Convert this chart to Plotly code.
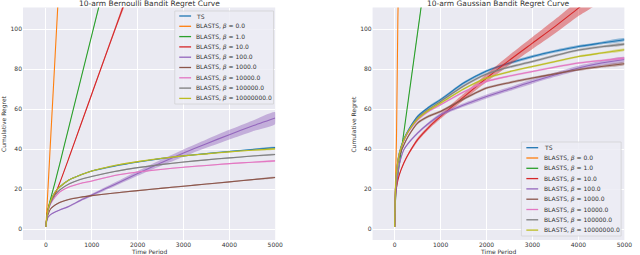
import plotly.graph_objects as go

# ---------------- data ----------------
T = [0, 10, 25, 50, 100, 200, 300, 500, 750, 1000, 1500, 2000, 2500, 3000, 3500, 4000, 4500, 5000]

SERIES = ["TS", "BLASTS, <i>β</i> = 0.0", "BLASTS, <i>β</i> = 1.0", "BLASTS, <i>β</i> = 10.0",
          "BLASTS, <i>β</i> = 100.0", "BLASTS, <i>β</i> = 1000.0", "BLASTS, <i>β</i> = 10000.0",
          "BLASTS, <i>β</i> = 100000.0", "BLASTS, <i>β</i> = 10000000.0"]
COLORS = ["#1f77b4", "#ff7f0e", "#2ca02c", "#d62728", "#9467bd", "#8c564b", "#e377c2", "#7f7f7f", "#bcbd22"]

# Bernoulli bandit (left)
bern_ts = [1, 4, 7, 10, 14, 18.5, 21, 24.5, 27, 29, 31.5, 33.5, 35.2, 36.6, 37.7, 38.8, 39.8, 40.7]
bern_b0_t = [0, 10, 25, 50, 100, 200, 300]
bern_b0 = [1, 5.5, 12, 22.5, 44, 86.5, 129]
bern_b1_t = [0, 25, 50, 100, 200, 300, 500, 750, 1000, 1250]
bern_b1 = [1, 7, 10.5, 15, 23.5, 32.5, 51, 74, 97, 120]
bern_b10_t = [0, 25, 50, 100, 200, 300, 500, 750, 1000, 1500, 1800]
bern_b10 = [1, 7, 10, 13.5, 17.5, 23, 35.5, 51.5, 67.5, 99.5, 118.5]
bern_b10_ci = [0, 0, 0.1, 0.1, 0.2, 0.3, 0.4, 0.6, 0.7, 1.0, 1.2]
bern_b100 = [1, 3, 4.5, 6, 7.2, 8.5, 9.5, 11.3, 14.3, 17, 22.3, 27.8, 33, 38, 42.7, 47.2, 51.5, 55.5]
bern_b100_ci = [0, 0, 0, 0.1, 0.2, 0.3, 0.3, 0.4, 0.5, 0.6, 0.9, 1.2, 1.5, 1.8, 2.1, 2.4, 2.7, 3.0]
bern_b1e3 = [1, 3.5, 5.5, 7.5, 10, 12, 13.3, 14.8, 15.9, 16.7, 18, 19.2, 20.3, 21.4, 22.5, 23.6, 24.7, 25.8]
bern_b1e4 = [1, 4, 6.5, 9, 12.5, 16, 18.5, 21, 22.8, 24, 26.8, 28.5, 29.8, 30.9, 31.8, 32.7, 33.4, 34.1]
bern_b1e5 = [1, 4, 6.5, 9.5, 13, 17, 19.5, 22.5, 24.8, 26.3, 28.8, 30.7, 32.2, 33.5, 34.6, 35.6, 36.5, 37.3]
bern_b1e7 = [1, 4, 7, 10, 14, 18.5, 21, 24.5, 27, 29, 31.8, 33.7, 35.3, 36.6, 37.6, 38.6, 39.4, 40.1]

# Gaussian bandit (right)
gaus_ts = [1, 14, 24, 31, 38, 45, 49.5, 56.3, 61, 64.7, 73, 79, 83, 86.3, 89, 91.3, 93, 94.7]
gaus_b0_t = [0, 10, 25, 40, 70, 85]
gaus_b0 = [1, 15, 30, 45, 105, 125]
gaus_b1_t = [0, 10, 25, 50, 100, 150, 300, 600]
gaus_b1 = [1, 10, 17, 23, 32, 40, 65, 115]
gaus_b10_t = [0, 10, 25, 50, 100, 200, 300, 500, 750, 1000, 1500, 2000, 2500, 3000, 3500, 4000, 4500]
gaus_b10 = [1, 12, 18, 22, 27, 33, 37.5, 44.7, 51, 56.3, 66, 75.5, 84.5, 93, 101.5, 110.5, 119]
gaus_b10_ci = [0, 0.2, 0.3, 0.4, 0.5, 0.6, 0.7, 0.9, 1.0, 1.2, 1.6, 2.0, 2.5, 3.0, 3.5, 4.0, 4.5]
gaus_b100 = [1, 10, 17, 24, 32, 39.7, 43, 48, 53, 57.2, 62, 66.3, 70, 73.8, 77.2, 80.5, 83, 84.8]
gaus_b100_ci = [0, 0.1, 0.2, 0.3, 0.4, 0.5, 0.5, 0.6, 0.7, 0.8, 0.9, 1.0, 1.0, 1.1, 1.1, 1.2, 1.2, 1.3]
gaus_b1e3 = [1, 13, 22, 29, 36, 42, 46.5, 53, 56.5, 58.8, 65, 70.5, 73.2, 75.5, 77.7, 79.7, 81.3, 82.7]
gaus_b1e4 = [1, 14, 23.5, 30.5, 37.5, 44, 48.5, 54.5, 59, 62.2, 68.5, 73.8, 76.5, 78.8, 81, 83, 84.3, 85.5]
gaus_b1e5 = [1, 14, 23.5, 30.5, 37.5, 44.5, 49, 55.5, 60, 63.8, 71.5, 77.5, 81, 83.8, 86.8, 89.5, 91.2, 92.5]
gaus_b1e7 = [1, 14, 23.5, 30.5, 37.5, 44.5, 49, 55, 59.5, 63, 70, 75.5, 78.7, 81.3, 83.8, 86.3, 88, 89.7]

X_TICKS = [0, 1000, 2000, 3000, 4000, 5000]
Y_TICKS = [0, 20, 40, 60, 80, 100]
TITLES = ["10-arm Bernoulli Bandit Regret Curve", "10-arm Gaussian Bandit Regret Curve"]
XLABEL = "Time Period"
YLABEL = "Cumulative Regret"

left = [
    (T, bern_ts, 0.3), (bern_b0_t, bern_b0, 0.3), (bern_b1_t, bern_b1, 0.3),
    (bern_b10_t, bern_b10, bern_b10_ci), (T, bern_b100, bern_b100_ci),
    (T, bern_b1e3, 0.3), (T, bern_b1e4, 0.3), (T, bern_b1e5, 0.3), (T, bern_b1e7, 0.3),
]
right = [
    (T, gaus_ts, 0.7), (gaus_b0_t, gaus_b0, 0.4), (gaus_b1_t, gaus_b1, 0.4),
    (gaus_b10_t, gaus_b10, gaus_b10_ci), (T, gaus_b100, gaus_b100_ci),
    (T, gaus_b1e3, 0.6), (T, gaus_b1e4, 0.5), (T, gaus_b1e5, 0.6), (T, gaus_b1e7, 0.5),
]

# ---------------- figure ----------------
W, H = 640, 255
BG = "#EAEAF2"
TXT = "#333333"
FONT = "DejaVu Sans"


def rgba(hexc, a):
    h = hexc.lstrip("#")
    return "rgba(%d,%d,%d,%s)" % (int(h[0:2], 16), int(h[2:4], 16), int(h[4:6], 16), a)


fig = go.Figure()

for panel, (data, xa, ya) in enumerate([(left, "x", "y"), (right, "x2", "y2")]):
    for i, (tx, vals, ci) in enumerate(data):
        cis = ci if isinstance(ci, list) else [ci] * len(vals)
        up = [v + c for v, c in zip(vals, cis)]
        lo = [v - c for v, c in zip(vals, cis)]
        fig.add_trace(go.Scatter(
            x=list(tx) + list(tx)[::-1], y=up + lo[::-1], fill="toself",
            fillcolor=rgba(COLORS[i], 0.45), line=dict(width=0, shape="spline", smoothing=0.6),
            mode="lines", hoverinfo="skip", showlegend=False, xaxis=xa, yaxis=ya))
        fig.add_trace(go.Scatter(
            x=tx, y=vals, mode="lines", line=dict(color=COLORS[i], width=1.1, shape="spline", smoothing=0.6),
            name=SERIES[i], showlegend=False, xaxis=xa, yaxis=ya))

# plot-area geometry (pixels)
L1, R1 = 23.3, 278.7
L2, R2 = 377.3, 632.3
TOP, BOT = 7.5, 240.0

axis_common = dict(showgrid=True, gridcolor="white", gridwidth=1, zeroline=False, showline=False,
                   ticks="", tickfont=dict(family=FONT, size=6, color=TXT))
fig.update_layout(
    width=W, height=H, margin=dict(l=0, r=0, t=0, b=0),
    paper_bgcolor="white", plot_bgcolor=BG, showlegend=False,
    xaxis=dict(domain=[L1 / W, R1 / W], range=[-500, 5000], tickvals=X_TICKS, anchor="y", **axis_common),
    yaxis=dict(domain=[1 - BOT / H, 1 - TOP / H], range=[-5.5, 110.8], tickvals=Y_TICKS, anchor="x", **axis_common),
    xaxis2=dict(domain=[L2 / W, R2 / W], range=[-480, 5000], tickvals=X_TICKS, anchor="y2", **axis_common),
    yaxis2=dict(domain=[1 - BOT / H, 1 - TOP / H], range=[-5.5, 110.8], tickvals=Y_TICKS, anchor="x2", **axis_common),
)

ann = []
shapes = []
for k, (l, r) in enumerate([(L1, R1), (L2, R2)]):
    ann.append(dict(text=TITLES[k], x=((l + r) / 2) / W, y=1 - 3.5 / H, xref="paper", yref="paper",
                    xanchor="center", yanchor="middle", showarrow=False,
                    font=dict(family=FONT, size=7.5, color=TXT)))
    ann.append(dict(text=XLABEL, x=((l + r) / 2) / W, y=1 - 251.5 / H, xref="paper", yref="paper",
                    xanchor="center", yanchor="middle", showarrow=False,
                    font=dict(family=FONT, size=6, color=TXT)))
    ann.append(dict(text=YLABEL, x=(l - 19) / W, y=1 - ((TOP + BOT) / 2) / H, xref="paper", yref="paper",
                    xanchor="center", yanchor="middle", showarrow=False, textangle=-90,
                    font=dict(family=FONT, size=6, color=TXT)))

# legends drawn manually (compact matplotlib-style spacing)
legends = [
    dict(box=(177, 11, 277, 104), y0=16.0, line_x=(181.5, 193.5), text_x=196),
    dict(box=(528, 142, 629, 236), y0=147.7, line_x=(533, 545), text_x=549),
]
STEP = 10.3
for lg in legends:
    x0, y0, x1, y1 = lg["box"]
    shapes.append(dict(type="rect", xref="paper", yref="paper", x0=x0 / W, x1=x1 / W,
                       y0=1 - y1 / H, y1=1 - y0 / H, fillcolor="rgba(236,236,244,0.85)",
                       line=dict(color="rgba(204,204,204,0.8)", width=0.8), layer="above"))
    for i, name in enumerate(SERIES):
        yy = lg["y0"] + i * STEP
        shapes.append(dict(type="line", xref="paper", yref="paper",
                           x0=lg["line_x"][0] / W, x1=lg["line_x"][1] / W,
                           y0=1 - yy / H, y1=1 - yy / H, line=dict(color=COLORS[i], width=1.3), layer="above"))
        ann.append(dict(text=name, x=lg["text_x"] / W, y=1 - yy / H, xref="paper", yref="paper",
                        xanchor="left", yanchor="middle", showarrow=False,
                        font=dict(family=FONT, size=6, color=TXT)))

fig.update_layout(annotations=ann, shapes=shapes)
fig.write_html("out.html", config={"displayModeBar": False},
               post_script="document.body.style.margin='0';document.body.style.overflow='hidden';")
